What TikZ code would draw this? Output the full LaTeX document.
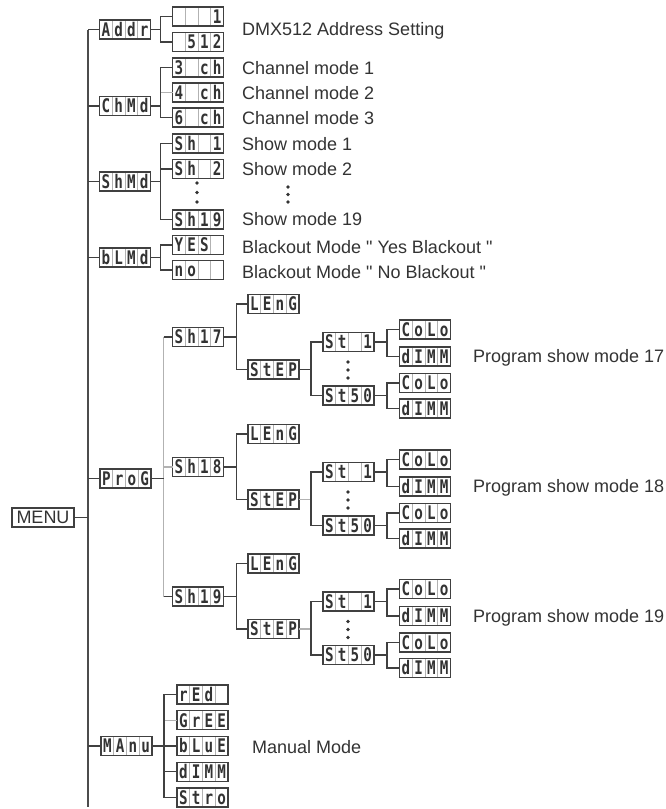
\documentclass[tikz,border=0pt]{standalone}
\usepackage{fontspec}
\setmainfont{Liberation Sans}
\newfontfamily\lcdf{DejaVu Sans Mono}
\usepackage{graphicx}
\usetikzlibrary{calc}
\newcommand\lcdcell[1]{\makebox[12.75pt][c]{\scalebox{0.95}[1.25]{\lcdf\bfseries #1}}}
\newcommand\lcd[4]{\lcdcell{#1}\lcdcell{#2}\lcdcell{#3}\lcdcell{#4}}
\tikzset{
  lcd/.style={draw=black!75, line width=1.1pt, fill=white, minimum width=51pt,
    inner sep=0pt, outer sep=0pt, text height=16.3pt, text depth=2.7pt,
    font=\fontsize{15}{15}\selectfont, text=black!80,
    path picture={
      \foreach \f in {0.25,0.5,0.75}{
        \draw[black!30, line width=0.7pt]
          ($(path picture bounding box.south west)!\f!(path picture bounding box.south east)$) --
          ($(path picture bounding box.north west)!\f!(path picture bounding box.north east)$);
      }}},
  menubox/.style={draw=black!75, line width=1.2pt, minimum width=62pt, inner sep=0pt,
    text height=15.95pt, text depth=3.05pt, font=\fontsize{18}{18}\selectfont, text=black!80},
  conn/.style={draw=black!75, line width=1.3pt},
  faint/.style={draw=black!30, line width=1.3pt},
  trunk/.style={draw=black!70, line width=2pt},
  lab/.style={anchor=base west, inner sep=0pt, font=\fontsize{18}{20}\selectfont, text=black!80},
  dotf/.style={fill=black!80},
}
\begin{document}
\begin{tikzpicture}[x=1pt,y=-1pt]
\fill[white] (0,0) rectangle (666,809);
\useasboundingbox (0,0) rectangle (666,809);

% trunk and menu
\coordinate (ttop) at (88,29.5);
\coordinate (tbot) at (88,807);
\draw[trunk] (ttop) -- (tbot);
\node[menubox] (menu) at (43,517.5) {MENU};
\draw[conn] (menu.east) -- (menu.east -| ttop);

% level 1
\node[lcd] (addr) at (125,29.5) {\lcd{A}{d}{d}{r}};
\node[lcd] (chmd) at (125,106) {\lcd{C}{h}{M}{d}};
\node[lcd] (shmd) at (125,181.5) {\lcd{S}{h}{M}{d}};
\node[lcd] (blmd) at (125,257.5) {\lcd{b}{L}{M}{d}};
\node[lcd] (prog) at (125.5,478.5) {\lcd{P}{r}{o}{G}};
\node[lcd] (manu) at (126.5,746) {\lcd{M}{A}{n}{u}};
\foreach \n in {addr,chmd,shmd,blmd,prog,manu}
  \draw[conn] (\n.west) -- (\n.west -| ttop);

% Addr
\node[lcd] (a1) at (198,16.5) {\lcd{}{}{}{1}};
\node[lcd] (a2) at (198,42) {\lcd{}{5}{1}{2}};
\foreach \c in {a1,a2} \draw[conn] (addr.east) -- ++(10,0) |- (\c.west);
\node[lab] (la) at (242,35) {DMX512 Address Setting};

% ChMd
\node[lcd] (c1) at (198,67.5) {\lcd{3}{}{c}{h}};
\node[lcd] (c2) at (198,92.5) {\lcd{4}{}{c}{h}};
\node[lcd] (c3) at (198,117.5) {\lcd{6}{}{c}{h}};
\foreach \c in {c1,c2,c3} \draw[conn] (chmd.east) -- ++(10,0) |- (\c.west);
\draw[faint] ([xshift=-11.5pt]c2.west) -- (c2.west);
\node[lab] (lc1) at (242,74) {Channel mode 1};
\node[lab] (lc2) at (242,99) {Channel mode 2};
\node[lab] (lc3) at (242,124) {Channel mode 3};

% ShMd
\node[lcd] (s1) at (198,143.5) {\lcd{S}{h}{}{1}};
\node[lcd] (s2) at (198,169) {\lcd{S}{h}{}{2}};
\node[lcd] (s19) at (198,219.5) {\lcd{S}{h}{1}{9}};
\foreach \c in {s1,s2,s19} \draw[conn] (shmd.east) -- ++(10,0) |- (\c.west);
\foreach \y in {183,192.5,202} \fill[dotf] (197,\y) circle (1.8pt);
\node[lab] (ls1) at (242,150.5) {Show mode 1};
\node[lab] (ls2) at (242,175.5) {Show mode 2};
\foreach \y in {187,194.5,202} \fill[dotf] (288,\y) circle (1.8pt);
\node[lab] (ls19) at (242,225.5) {Show mode 19};

% bLMd
\node[lcd] (yes) at (198,245) {\lcd{Y}{E}{S}{}};
\node[lcd] (no) at (198,270) {\lcd{n}{o}{}{}};
\foreach \c in {yes,no} \draw[conn] (blmd.east) -- ++(10,0) |- (\c.west);
\node[lab] (lyes) at (242,253.5) {Blackout Mode \textquotedbl{} Yes Blackout \textquotedbl};
\node[lab] (lno) at (242,278) {Blackout Mode \textquotedbl{} No Blackout \textquotedbl};

% ProG
\coordinate (pbus) at ($(prog.east)+(12.5,0)$);
\foreach \k/\u/\d in {17/7/0,18/8/130,19/9/259.5}{
  \node[lcd] (sh\k) at (198,{337+\d}) {\lcd{S}{h}{1}{\u}};
  \node[lcd] (len\k) at (273.5,{304+\d}) {\lcd{L}{E}{n}{G}};
  \node[lcd] (step\k) at (273.5,{369.5+\d}) {\lcd{S}{t}{E}{P}};
  \node[lcd] (sta\k) at (348.5,{342+\d}) {\lcd{S}{t}{}{1}};
  \node[lcd] (stb\k) at (348.5,{395.5+\d}) {\lcd{S}{t}{5}{0}};
  \node[lcd] (cola\k) at (425,{329.5+\d}) {\lcd{C}{o}{L}{o}};
  \node[lcd] (dima\k) at (425,{356.5+\d}) {\lcd{d}{I}{M}{M}};
  \node[lcd] (colb\k) at (425,{383+\d}) {\lcd{C}{o}{L}{o}};
  \node[lcd] (dimb\k) at (425,{408.5+\d}) {\lcd{d}{I}{M}{M}};
  \draw[conn] (pbus |- sh\k.west) -- (sh\k.west);
  \foreach \c in {len\k,step\k} \draw[conn] (sh\k.east) -- ++(13,0) |- (\c.west);
  \foreach \c in {sta\k,stb\k} \draw[conn] (step\k.east) -- ++(12,0) |- (\c.west);
  \foreach \c in {cola\k,dima\k} \draw[conn] (sta\k.east) -- ++(13,0) |- (\c.west);
  \foreach \c in {colb\k,dimb\k} \draw[conn] (stb\k.east) -- ++(13,0) |- (\c.west);
  \foreach \y in {362,370,378} \fill[dotf] (348,{\y+\d}) circle (1.8pt);
  \node[lab] (lp\k) at (473,{362.5+\d}) {Program show mode \k};
}
\draw[faint] (pbus |- sh17.west) -- (pbus |- sh19.west);
\draw[conn] (prog.east) -- (pbus);
\draw[faint] (pbus |- sh18.west) -- (sh18.west);
\draw[faint] (step18.east) -- ++(11,0);
\draw[faint] (step19.east) -- ++(11,0);

% Manu
\node[lcd] (rd) at (202.5,694.5) {\lcd{r}{E}{d}{}};
\node[lcd] (gr) at (202.5,720.3) {\lcd{G}{r}{E}{E}};
\node[lcd] (bl) at (202.5,746) {\lcd{b}{L}{u}{E}};
\node[lcd] (dm) at (202.5,771.8) {\lcd{d}{I}{M}{M}};
\node[lcd] (sr) at (202.5,797.5) {\lcd{S}{t}{r}{o}};
\foreach \c in {rd,gr,bl,dm,sr} \draw[conn] (manu.east) -- ++(12,0) |- (\c.west);
\draw[faint] ([xshift=-12pt]gr.west) -- (gr.west);
\node[lab] (lm) at (252,753.5) {Manual Mode};
\end{tikzpicture}
\end{document}
